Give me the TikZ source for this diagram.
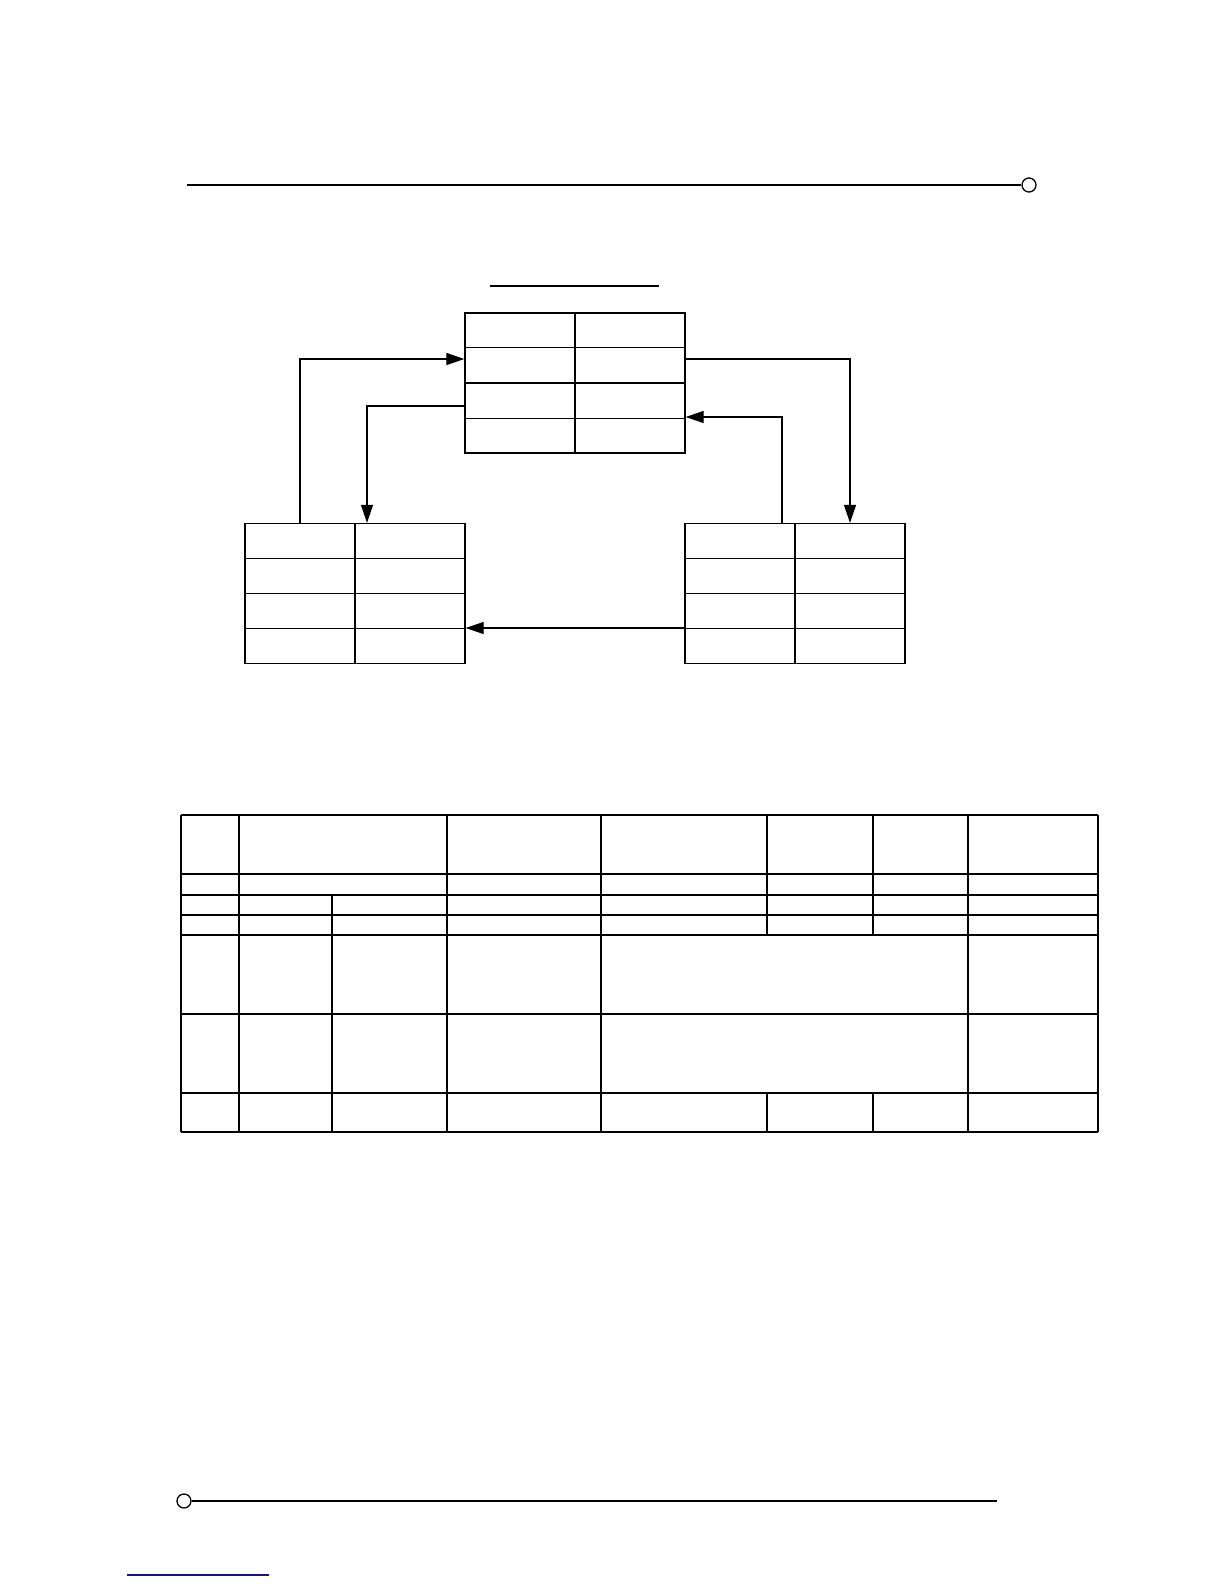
\documentclass[tikz,border=0pt]{standalone}
\usetikzlibrary{arrows.meta,calc}
\definecolor{linkblue}{RGB}{20,20,140}
\tikzset{
  box/.style={draw, line width=1.3pt, minimum width=220pt, minimum height=140pt, inner sep=0pt},
  conn/.style={line width=1.2pt, -{Triangle[length=18pt,width=12pt]}},
  grid/.style={line width=1.3pt},
}
\begin{document}
\begin{tikzpicture}[x=1pt,y=-1pt]
\useasboundingbox (0,0) rectangle (1224,1584);
% header rule with ring
\node[draw, circle, line width=1.3pt, minimum size=14pt, inner sep=0pt] (ringtop) at (1029,185) {};
\coordinate (hstart) at (187,185);
\draw[line width=1.3pt] (hstart) -- (ringtop.west);
% footer rule with ring
\node[draw, circle, line width=1.3pt, minimum size=14pt, inner sep=0pt] (ringbot) at (184,1501) {};
\coordinate (fend) at (997,1501);
\draw[line width=2pt] (ringbot.east) -- (fend);
% blue link underline
\coordinate (b1) at (127,1575);
\coordinate (b2) at (269,1575);
\draw[linkblue, line width=1.3pt] (b1) -- (b2);
% title underline
\coordinate (u1) at (490,286);
\coordinate (u2) at (659,286);
\draw[line width=1.3pt] (u1) -- (u2);
% boxes
\node[box] (T) at (575,383) {};
\node[box] (L) at (355,593.5) {};
\node[box] (R) at (795,593.5) {};
\foreach \b in {T,L,R}{
  \draw[line width=1.3pt] (\b.north) -- (\b.south);
  \draw[line width=1.3pt] ($(\b.north west)!0.25!(\b.south west)$) -- ($(\b.north east)!0.25!(\b.south east)$);
  \draw[line width=1.3pt] (\b.west) -- (\b.east);
  \draw[line width=1.3pt] ($(\b.north west)!0.75!(\b.south west)$) -- ($(\b.north east)!0.75!(\b.south east)$);
}
% connector helper coordinates
\coordinate (c1) at (300,359);
\coordinate (c2) at (367,406);
\coordinate (c3) at (850,359);
\coordinate (c4) at (782,417);
\coordinate (c5) at (0,628);
\draw[conn] (L.north -| c1) |- (T.west |- c1);
\draw[conn] (T.west |- c2) -| (L.north -| c2);
\draw[conn] (T.east |- c3) -| (R.north -| c3);
\draw[conn] (R.north -| c4) |- (T.east |- c4);
\draw[conn] (R.west |- c5) -- (L.east |- c5);
% table
\foreach \y in {815,874,895,915,935,1014,1093,1132}
  \draw[grid] (181,\y) -- (1098,\y);
\foreach \x in {181,239,447,601,968,1098}
  \draw[grid] (\x,815) -- (\x,1132);
\draw[grid] (332,895) -- (332,1132);
\foreach \x in {767,873}{
  \draw[grid] (\x,815) -- (\x,935);
  \draw[grid] (\x,1093) -- (\x,1132);
}
\end{tikzpicture}
\end{document}
